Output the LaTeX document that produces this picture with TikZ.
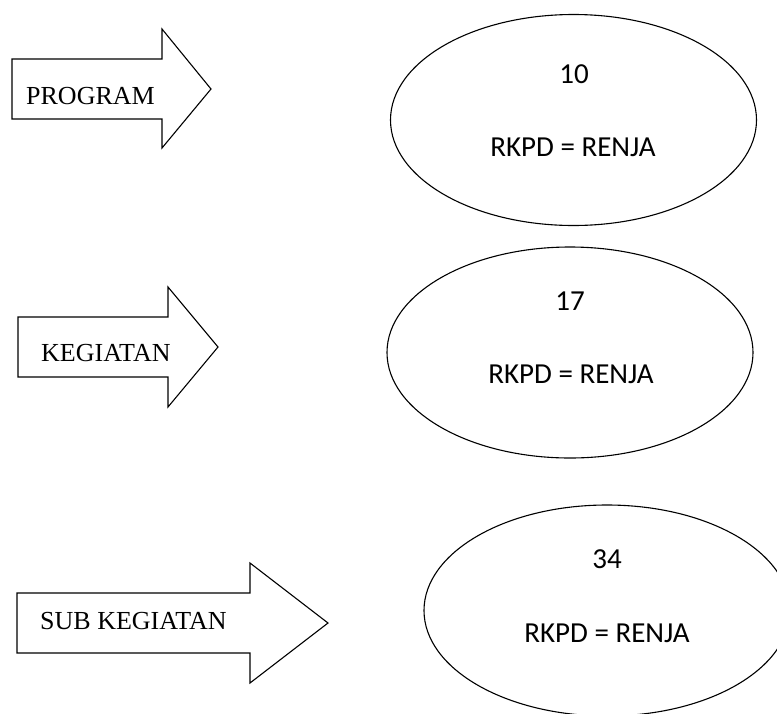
\documentclass[tikz,border=0pt]{standalone}
\usepackage{fontspec}
\setmainfont{Liberation Serif}
\newfontfamily\bodyfont{Carlito}
\usetikzlibrary{shapes.geometric}
\tikzset{
  arrowbox/.style={draw=black, line width=1.1pt, line join=miter, fill=white},
  oval/.style={draw=black, line width=1.1pt, ellipse, inner sep=0pt, minimum width=366pt, minimum height=211pt},
  arrowlabel/.style={anchor=base west, inner sep=0pt, font=\fontsize{26}{30}\selectfont},
  ovallabel/.style={anchor=base, inner sep=0pt, font=\bodyfont\fontsize{29}{34}\selectfont}
}
\begin{document}
\begin{tikzpicture}[x=1pt, y=-1pt]
\clip (0,0) rectangle (777,713);
\fill[white] (0,0) rectangle (777,713);
% arrows
\draw[arrowbox] (12,59) -- (162,59) -- (162,29) -- (211,89) -- (162,148) -- (162,119) -- (12,119) -- cycle;
\node[arrowlabel] (program) at (26,104) {PROGRAM};
\draw[arrowbox] (18,317) -- (168,317) -- (168,287) -- (218,347) -- (168,407) -- (168,377) -- (18,377) -- cycle;
\node[arrowlabel] (kegiatan) at (41,361) {KEGIATAN};
\draw[arrowbox] (17,593) -- (250,593) -- (250,563) -- (328,623) -- (250,683) -- (250,653) -- (17,653) -- cycle;
\node[arrowlabel] (subkegiatan) at (40,629) {SUB KEGIATAN};
% ellipses
\node[oval] (e1) at (573.5,120) {};
\node[ovallabel] (n1) at (574,83) {10};
\node[ovallabel] (r1) at (573,156) {RKPD = RENJA};
\node[oval] (e2) at (570,352.5) {};
\node[ovallabel] (n2) at (570,310) {17};
\node[ovallabel] (r2) at (571,383) {RKPD = RENJA};
\node[oval] (e3) at (607,610.5) {};
\node[ovallabel] (n3) at (607,568) {34};
\node[ovallabel] (r3) at (607,642) {RKPD = RENJA};
\end{tikzpicture}
\end{document}
